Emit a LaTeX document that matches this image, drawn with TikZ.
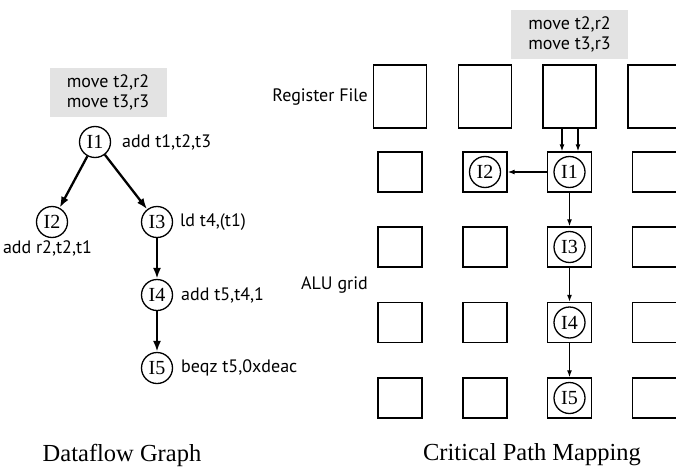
\documentclass[tikz,border=0pt]{standalone}
\usepackage{fontspec}
\setmainfont{Liberation Serif}
\setsansfont{PT Sans}
\usetikzlibrary{arrows.meta}

\tikzset{
    instr/.style = {font=\sffamily\fontsize{18}{20}\selectfont, inner sep=1pt},
    movebox/.style = {fill=gray!22, minimum width=117pt, minimum height=49pt, align=center, inner sep=0pt, font=\sffamily\fontsize{18}{20}\selectfont},
    op/.style = {draw, circle, line width=1.3pt, minimum size=31pt, inner sep=0pt, font=\fontsize{20}{20}\selectfont},
    alu/.style = {draw, line width=1.4pt, minimum width=44pt, minimum height=40pt, inner sep=0pt},
    regfile/.style = {draw, line width=1.4pt, minimum width=53pt, minimum height=63pt, inner sep=0pt},
    flow/.style = {-{Latex[length=11pt, width=8pt]}, line width=2.3pt},
    wire/.style = {-{Latex[length=7pt, width=5pt]}, line width=1.2pt},
    caption/.style = {font=\fontsize{24.5}{24.5}\selectfont}
}

\begin{document}
\begin{tikzpicture}[x=1pt, y=-1pt]
        \clip (0, 0) rectangle (676, 468);
        % dataflow graph
        \node [movebox] (movel) at (108, 92.5) {move t2,r2\\move t3,r3};
        \node [op] (i1) at (95, 142) {I1};
        \node [op] (i2) at (52, 222) {I2};
        \node [op] (i3) at (157, 222) {I3};
        \node [op] (i4) at (157, 295) {I4};
        \node [op] (i5) at (157, 368) {I5};
        \node [instr, right] (c1) at (121, 142) {add t1,t2,t3};
        \node [instr] (c2) at (47.5, 248) {add r2,t2,t1};
        \node [instr, right] (c3) at (179, 222) {ld t4,(t1)};
        \node [instr, right] (c4) at (180, 295) {add t5,t4,1};
        \node [instr, right] (c5) at (180, 368) {beqz t5,0xdeac};
        \draw [flow] (i1) -- (i2);
        \draw [flow] (i1) -- (i3);
        \draw [flow] (i3) -- (i4);
        \draw [flow] (i4) -- (i5);
        \node [caption] (dfg) at (122, 455) {Dataflow Graph};

        % critical path mapping
        \node [movebox] (mover) at (569.5, 34.5) {move t2,r2\\move t3,r3};
        \foreach \c/\x in {1/400, 2/485, 3/569.5, 4/654.5} {
            \node [regfile] (rf\c) at (\x, 96.5) {};
            \foreach \r/\y in {1/172, 2/247, 3/322.5, 4/398}
                \node [alu] (a\r\c) at (\x, \y) {};
        }
        \node [instr, left] (rflabel) at (369, 97) {Register File};
        \node [instr, left] (alulabel) at (369, 285) {ALU grid};
        \node [op] (m1) at (a13) {I1};
        \node [op] (m2) at (a12) {I2};
        \node [op] (m3) at (a23) {I3};
        \node [op] (m4) at (a33) {I4};
        \node [op] (m5) at (a43) {I5};
        \draw [wire] ([xshift=-7.5pt]rf3.south) -- ([xshift=-7.5pt]a13.north);
        \draw [wire] ([xshift=8.5pt]rf3.south) -- ([xshift=8.5pt]a13.north);
        \draw [wire] (a13.west) -- (a12.east);
        \draw [wire] (a13.south) -- (a23.north);
        \draw [wire] (a23.south) -- (a33.north);
        \draw [wire] (a33.south) -- (a43.north);
        \node [caption] (cpm) at (532, 455) {Critical Path Mapping};
    \end{tikzpicture}
\end{document}
